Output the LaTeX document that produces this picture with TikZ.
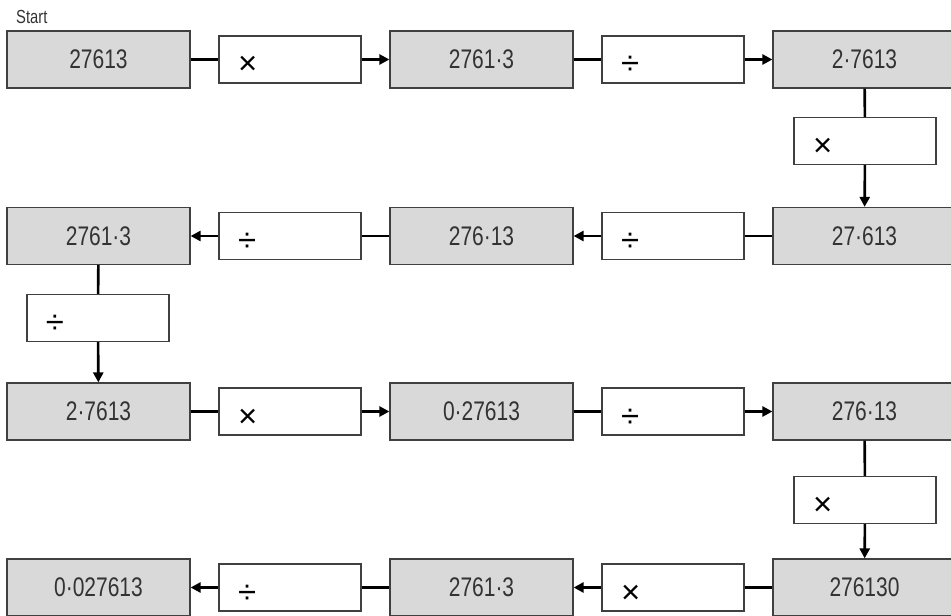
\documentclass[tikz,border=0pt]{standalone}
\usepackage{fontspec}
\usetikzlibrary{arrows.meta,positioning}
\newfontfamily\handfont[FakeStretch=0.78]{Liberation Sans}
\newfontfamily\opfont{Liberation Sans}
\definecolor{boxgrey}{HTML}{D9D9D9}
\definecolor{boxline}{HTML}{404040}
\definecolor{valtext}{HTML}{333333}
\tikzset{
  valbox/.style={draw=boxline,line width=1.2bp,fill=boxgrey,minimum width=183bp,minimum height=57bp,inner sep=0pt,text=valtext,font=\handfont\fontsize{27}{30}\selectfont},
  opbox/.style={draw=boxline,line width=1.2bp,fill=white,minimum height=47bp,inner xsep=19bp,inner ysep=0pt,text width=104bp,text height=31bp,text depth=0bp,align=left,font=\opfont\fontsize{33}{34}\selectfont},
  link/.style={line width=2.6bp},
  linkarrow/.style={line width=2.6bp,-{Triangle[length=10bp,width=10bp]}}
}
\begin{document}
\begin{tikzpicture}[x=1bp,y=-1bp]
\useasboundingbox (0,0) rectangle (951,616);
\node[anchor=west,inner sep=0pt,text=valtext,font=\handfont\fontsize{19}{20}\selectfont] (start) at (16,17) {Start};
% row 1, left to right
\node[valbox] (g11) at (98.5,59.5)  {27613};
\node[opbox]  (o11) at (290,59.5)   {×};
\node[valbox] (g12) at (481.5,59.5) {2761·3};
\node[opbox]  (o12) at (673,59.5)   {÷};
\node[valbox] (g13) at (864.5,59.5) {2·7613};
\node[opbox]  (v1)  at (865,141)    {×};
% row 2, right to left
\node[valbox] (g21) at (98.5,236)   {2761·3};
\node[opbox]  (o21) at (290,236)    {÷};
\node[valbox] (g22) at (481.5,236)  {276·13};
\node[opbox]  (o22) at (673,236)    {÷};
\node[valbox] (g23) at (864.5,236)  {27·613};
\node[opbox]  (v2)  at (98,318)     {÷};
% row 3, left to right
\node[valbox] (g31) at (98.5,411.5)  {2·7613};
\node[opbox]  (o31) at (290,411.5)   {×};
\node[valbox] (g32) at (481.5,411.5) {0·27613};
\node[opbox]  (o32) at (673,411.5)   {÷};
\node[valbox] (g33) at (864.5,411.5) {276·13};
\node[opbox]  (v3)  at (865,500)     {×};
% row 4, right to left
\node[valbox] (g41) at (98.5,587.5)  {0·027613};
\node[opbox]  (o41) at (290,587.5)   {÷};
\node[valbox] (g42) at (481.5,587.5) {2761·3};
\node[opbox]  (o42) at (673,587.5)   {×};
\node[valbox] (g43) at (864.5,587.5) {276130};
% connectors
\draw[link] (g11) -- (o11);
\draw[linkarrow] (o11) -- (g12);
\draw[link] (g12) -- (o12);
\draw[linkarrow] (o12) -- (g13);
\draw[link] (g13) -- (v1);
\draw[linkarrow] (v1) -- (g23);
\draw[link] (g23) -- (o22);
\draw[linkarrow] (o22) -- (g22);
\draw[link] (g22) -- (o21);
\draw[linkarrow] (o21) -- (g21);
\draw[link] (g21) -- (v2);
\draw[linkarrow] (v2) -- (g31);
\draw[link] (g31) -- (o31);
\draw[linkarrow] (o31) -- (g32);
\draw[link] (g32) -- (o32);
\draw[linkarrow] (o32) -- (g33);
\draw[link] (g33) -- (v3);
\draw[linkarrow] (v3) -- (g43);
\draw[link] (g43) -- (o42);
\draw[linkarrow] (o42) -- (g42);
\draw[link] (g42) -- (o41);
\draw[linkarrow] (o41) -- (g41);
\end{tikzpicture}
\end{document}
